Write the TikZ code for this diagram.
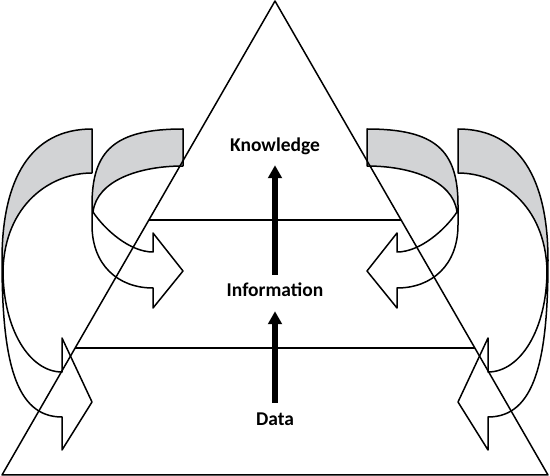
\documentclass[tikz,border=0pt]{standalone}
\usepackage{fontspec}
\setmainfont{Carlito}
\usetikzlibrary{arrows.meta,calc}
\definecolor{ribbon}{RGB}{210,211,213}
\tikzset{
  ln/.style={line width=1.5pt, line join=round},
  lbl/.style={font=\fontsize{19.5}{20}\selectfont\bfseries, inner sep=0pt, text height=13pt, text depth=4pt, anchor=base},
  blkarrow/.style={line width=6pt, -{Triangle[length=13pt 0, width=13.5pt 0]}},
  sidepair/.pic={
    % outer ribbon arrow
    \fill[ribbon] (92,129) .. controls (30,129) and (2,180) .. (2,260) -- (3,270)
      .. controls (5,205) and (50,173) .. (92,173) -- cycle;
    \draw[ln] (92,129) .. controls (30,129) and (2,180) .. (2,260)
      .. controls (2,360) and (15,417) .. (62,417) -- (62,450) -- (92,402) -- (62,338) -- (62,372)
      .. controls (30,372) and (3,330) .. (3,270)
      .. controls (5,205) and (50,173) .. (92,173) -- cycle;
    % inner ribbon arrow
    \fill[ribbon] (183,129) .. controls (115,129) and (92,150) .. (92,205) -- (93,212)
      .. controls (97,180) and (140,166) .. (183,166) -- cycle;
    \draw[ln] (183,129) .. controls (115,129) and (92,150) .. (92,205) -- (92,225)
      .. controls (92,265) and (118,288) .. (153,288) -- (153,308) -- (183,271) -- (153,233) -- (153,252)
      .. controls (130,252) and (105,230) .. (93,212)
      .. controls (97,180) and (140,166) .. (183,166) -- cycle;
  }
}
\begin{document}
\begin{tikzpicture}[x=1pt,y=-1pt]
\useasboundingbox (0,0) rectangle (550,476);
\pic at (0,0) {sidepair};
\pic[xscale=-1] at (550,0) {sidepair};
\coordinate (apex) at (275,1);
\coordinate (bl) at (2,475);
\coordinate (br) at (548,475);
\draw[ln] (bl) -- (apex) -- (br) -- cycle;
\draw[ln] ($(bl)!0.538!(apex)$) -- ($(br)!0.538!(apex)$);
\draw[ln] ($(bl)!0.268!(apex)$) -- ($(br)!0.268!(apex)$);
\node[lbl] (know) at (275,152) {Knowledge};
\node[lbl] (info) at (275,297) {Information};
\node[lbl] (data) at (275,425) {Data};
\draw[blkarrow, shorten <=9pt, shorten >=9pt] (info.north) -- (know.south);
\draw[blkarrow, shorten <=9pt, shorten >=10pt] (data.north) -- (info.south);
\end{tikzpicture}
\end{document}
